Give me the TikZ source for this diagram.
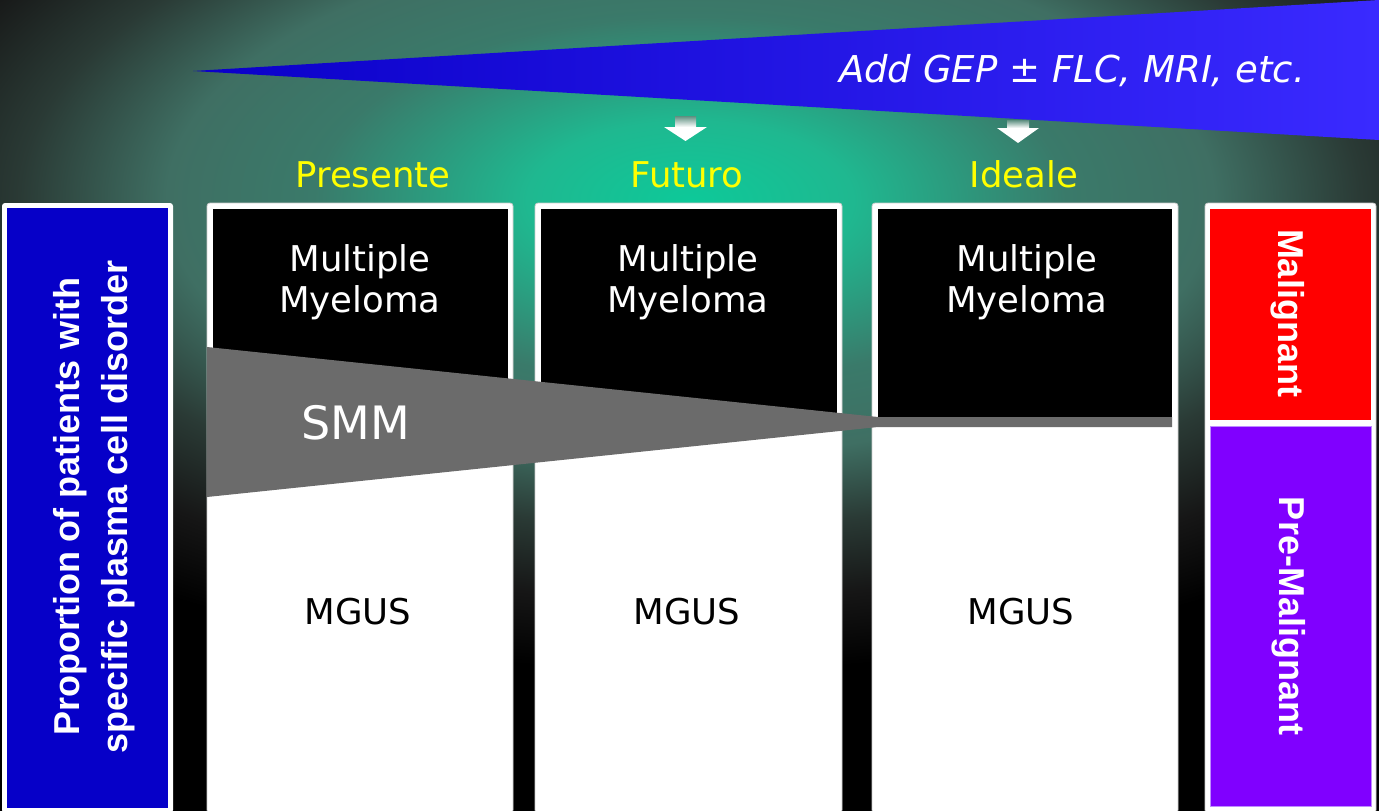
\documentclass[tikz,border=0pt]{standalone}
\usepackage{fontspec}
\newfontfamily\vfont{DejaVu Sans}[ItalicFont={DejaVu Sans Oblique}]
\newfontfamily\afont{Liberation Sans}
\definecolor{glowA}{HTML}{0DC999}
\definecolor{glowB}{HTML}{1FB890}
\definecolor{glowC}{HTML}{3A7A6A}
\definecolor{glowD}{HTML}{3F6F63}
\definecolor{glowE}{HTML}{2A3A35}
\definecolor{glowF}{HTML}{161616}
\definecolor{wedgeL}{HTML}{0A00C8}
\definecolor{wedgeR}{HTML}{3A2AFF}
\definecolor{smmgray}{HTML}{6B6B6B}
\definecolor{leftblue}{HTML}{0600C8}
\definecolor{malred}{HTML}{FF0000}
\definecolor{prepurple}{HTML}{8000FF}
\definecolor{purpleedge}{HTML}{BE8CFF}
\definecolor{labyellow}{HTML}{FFFF00}
\definecolor{stemtop}{HTML}{5E8F80}
\pgfdeclareradialshading{bgglow}{\pgfpoint{0bp}{0bp}}{color(0bp)=(glowA); color(3.2bp)=(glowB); color(7.4bp)=(glowC); color(10.3bp)=(glowD); color(13.2bp)=(glowE); color(16.1bp)=(glowF); color(19bp)=(black); color(50bp)=(black)}
\tikzset{
  vtext/.style={font=\vfont\fontsize{35.5}{42}\selectfont, inner sep=0pt},
  smmtext/.style={font=\vfont\fontsize{46}{52}\selectfont, inner sep=0pt, text=white},
  atext/.style={font=\afont\bfseries\fontsize{36}{42}\selectfont, inner sep=0pt, text=white},
  frame/.style={fill=white, draw=black!20, line width=0.8pt, rounded corners=3pt},
  stem/.style={top color=stemtop, bottom color=white},
}
\begin{document}
\begin{tikzpicture}[x=1pt,y=-1pt]
\useasboundingbox (0,0) rectangle (1379,811);
% background
\fill[black] (0,0) rectangle (1379,811);
\begin{scope}
  \clip (0,0) rectangle (1379,811);
  \shade[shading=bgglow] (-580,-420) rectangle (1960,820);
\end{scope}
% top wedge
\shade[left color=wedgeL, right color=wedgeR] (193,71) -- (1379,0) -- (1379,140) -- cycle;
\node[vtext, font=\vfont\itshape\fontsize{37}{42}\selectfont, text=white, anchor=base east] (gep) at (1305,82) {Add GEP ± FLC, MRI, etc.};
% small arrows
\shade[stem] (675,116) rectangle (696,127);
\fill[white] (664,127) -- (707,127) -- (685.5,141) -- cycle;
\shade[stem] (1007,120) rectangle (1029,128);
\fill[white] (997,128) -- (1039,128) -- (1018,143) -- cycle;
% column labels
\node[vtext, text=labyellow, anchor=base] (lab1) at (373,187) {Presente};
\node[vtext, text=labyellow, anchor=base] (lab2) at (687,187) {Futuro};
\node[vtext, text=labyellow, anchor=base] (lab3) at (1024,187) {Ideale};
% left blue box
\fill[white, rounded corners=3pt] (2,203) rectangle (173,813);
\fill[leftblue] (7,208) rectangle (168,808);
% column boxes
\path[frame] (207,203) rectangle (513,813);
\fill[black] (213,209) rectangle (508,422);
\path[frame] (535,203) rectangle (842,813);
\fill[black] (541,209) rectangle (837,422);
\path[frame] (872,203) rectangle (1178,813);
\fill[black] (878,209) rectangle (1172,422);
% right box
\path[frame] (1205,203) rectangle (1376,813);
\fill[malred] (1210,209) rectangle (1371,420);
\filldraw[fill=prepurple, draw=purpleedge, line width=0.8pt] (1210,426) rectangle (1371,806);
% SMM wedge
\fill[smmgray] (207,347) -- (878,417) -- (1172,417) -- (1172,427) -- (878,427) -- (207,497) -- cycle;
% texts in boxes
\node[vtext, text=white, anchor=base] (mm1a) at (360,271) {Multiple};
\node[vtext, text=white, anchor=base] (mm1b) at (360,312) {Myeloma};
\node[vtext, text=white, anchor=base] (mm2a) at (688,271) {Multiple};
\node[vtext, text=white, anchor=base] (mm2b) at (688,312) {Myeloma};
\node[vtext, text=white, anchor=base] (mm3a) at (1027,271) {Multiple};
\node[vtext, text=white, anchor=base] (mm3b) at (1027,312) {Myeloma};
\node[smmtext, anchor=base] (smm) at (356,439) {SMM};
\node[vtext, text=black, anchor=base] (mg1) at (358,624) {MGUS};
\node[vtext, text=black, anchor=base] (mg2) at (687,624) {MGUS};
\node[vtext, text=black, anchor=base] (mg3) at (1021,624) {MGUS};
% vertical labels
\node[atext, rotate=90, anchor=base] (prop1) at (79,507) {Proportion of patients with};
\node[atext, rotate=90, anchor=base] (prop2) at (127,507) {specific plasma cell disorder};
\node[atext, rotate=-90, anchor=base] (mal) at (1278,313) {Malignant};
\node[atext, rotate=-90, anchor=base] (premal) at (1279,616) {Pre-Malignant};
\end{tikzpicture}
\end{document}
